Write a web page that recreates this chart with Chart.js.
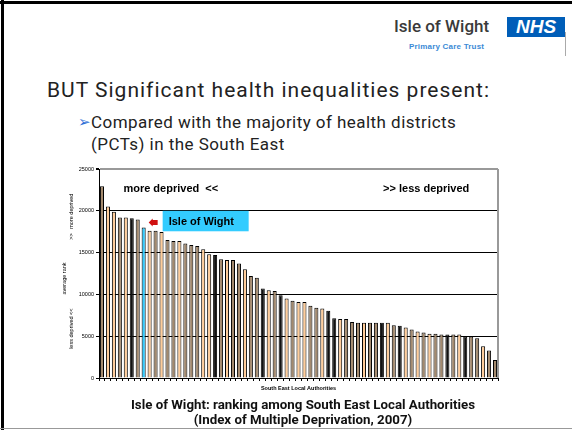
<!DOCTYPE html>
<html>
<head>
<meta charset="utf-8">
<script src="https://cdn.jsdelivr.net/npm/chart.js@4"></script>
<style>
    body { margin: 0; background: #fff; }
    .slide { position: relative; width: 572px; height: 430px; overflow: hidden; background: #fff; }
    .edgeTop { position: absolute; left: 0; top: 1px; width: 572px; height: 3px; background: #000; }
    .edgeLeft { position: absolute; left: 1px; top: 0; width: 3px; height: 430px; background: #000; }
    .edgeBottom { position: absolute; left: 0; top: 428px; width: 572px; height: 1px; background: #999; }
    .logoText { position: absolute; left: 394px; top: 16px; font: 500 17px Roboto, sans-serif; color: #3a3a3a; }
    .logoSub { position: absolute; left: 409px; top: 42px; font: bold 8px "Liberation Sans", sans-serif; color: #3b8ad6; letter-spacing: 0.2px; }
    .nhs { position: absolute; left: 507px; top: 17px; width: 58px; height: 20px; background: #005eb8;
           color: #fff; font: italic bold 19px "Liberation Sans", sans-serif; line-height: 20px; text-align: center; }
    .logoEdge { position: absolute; left: 565px; top: 32px; width: 1px; height: 24px; background: #aaa; }
    .title { position: absolute; left: 47px; top: 78px; font: 21px Roboto, sans-serif; letter-spacing: 1px; color: #222; white-space: nowrap; }
    .bullet { position: absolute; left: 78px; top: 113px; font: 15px "DejaVu Sans", sans-serif; color: #2f6fd6; }
    .sub { position: absolute; left: 91px; top: 111px; font: 17px/22px Roboto, sans-serif; letter-spacing: 0.45px; color: #222; white-space: nowrap; }
    .chartBox { position: absolute; left: 40px; top: 160px; width: 470px; height: 240px; }
    .caption { position: absolute; left: 0; width: 606px; top: 397px; text-align: center;
               font: bold 13.3px/15px Roboto, sans-serif; color: #111; }
</style>
</head>
<body>
<div class="slide">
    <div class="edgeTop"></div>
    <div class="edgeLeft"></div>
    <div class="edgeBottom"></div>
    <div class="logoText">Isle of Wight</div>
    <div class="nhs">NHS</div>
    <div class="logoSub">Primary Care Trust</div>
    <div class="logoEdge"></div>
    <div class="title">BUT Significant health inequalities present:</div>
    <div class="bullet">&#10146;</div>
    <div class="sub">Compared with the majority of health districts<br>(PCTs) in the South East</div>
    <div class="chartBox"><canvas id="myChart"></canvas></div>
    <div class="caption">Isle of Wight: ranking among South East Local Authorities<br>(Index of Multiple Deprivation, 2007)</div>
</div>
<script>
// 67 South East local authorities, most deprived first (average rank, IMD 2007)
const authorities = ['1', '2', '3', '4', '5', '6', '7', 'Isle of Wight', '9', '10',
    '11', '12', '13', '14', '15', '16', '17', '18', '19', '20',
    '21', '22', '23', '24', '25', '26', '27', '28', '29', '30',
    '31', '32', '33', '34', '35', '36', '37', '38', '39', '40',
    '41', '42', '43', '44', '45', '46', '47', '48', '49', '50',
    '51', '52', '53', '54', '55', '56', '57', '58', '59', '60',
    '61', '62', '63', '64', '65', '66', '67'];
const averageRank = [22950, 20500, 19900, 19200, 19200, 19100, 18950, 18000, 17600, 17600,
    17450, 16500, 16400, 16400, 16100, 15900, 15800, 15400, 14800, 14700,
    14200, 14100, 14100, 13700, 13000, 12200, 12000, 10700, 10500, 10400,
    9900, 9500, 9250, 9100, 9100, 8650, 8400, 8300, 8050, 7150,
    7050, 7050, 6700, 6600, 6600, 6600, 6600, 6600, 6600, 6300,
    6250, 6050, 5800, 5550, 5450, 5300, 5300, 5200, 5200, 5200,
    5200, 4950, 4950, 4750, 3800, 3300, 2150];
// bar group per authority: 0 = Isle of Wight, 1 = light, 2 = mid, 3 = dark
const barGroup = [2, 1, 1, 2, 1, 3, 2, 0, 1, 2,
    1, 2, 2, 1, 2, 2, 2, 1, 1, 3,
    2, 1, 2, 2, 1, 2, 2, 3, 1, 2,
    3, 1, 2, 1, 1, 2, 2, 1, 3, 3,
    1, 2, 2, 2, 1, 2, 2, 3, 1, 2,
    3, 1, 2, 1, 2, 1, 2, 2, 3, 2,
    1, 3, 2, 2, 1, 2, 2];
const yTicks = [0, 5000, 10000, 15000, 20000, 25000];

const groupColours = ['#33ccff', '#ffcc99', '#a48a6e', '#111111'];
const highlightIndex = authorities.indexOf('Isle of Wight');

const annotations = {
    id: 'annotations',
    beforeDatasetsDraw(chart) {
        const { ctx, chartArea } = chart;
        ctx.save();
        ctx.strokeStyle = '#999';
        ctx.lineWidth = 2;
        ctx.beginPath();
        ctx.moveTo(chartArea.right, chartArea.top);
        ctx.lineTo(chartArea.right, chartArea.bottom);
        ctx.stroke();
        ctx.restore();
    },
    afterDatasetsDraw(chart) {
        const { ctx, chartArea, scales } = chart;
        const x = scales.x;
        const y = scales.y;
        ctx.save();
        ctx.fillStyle = '#000';
        ctx.textBaseline = 'middle';

        // region labels
        ctx.font = 'bold 11px "Liberation Sans", Arial, sans-serif';
        ctx.textAlign = 'left';
        ctx.fillText('more deprived  <<', x.getPixelForValue(3.6), y.getPixelForValue(22650));
        ctx.fillText('>> less deprived', x.getPixelForValue(47.2), y.getPixelForValue(22650));

        // Isle of Wight label
        const bx = x.getPixelForValue(highlightIndex) + 19;
        const top = y.getPixelForValue(20000);
        const bottom = y.getPixelForValue(17550);
        ctx.fillStyle = '#33ccff';
        ctx.fillRect(bx, top, 86, bottom - top);
        ctx.fillStyle = '#000';
        ctx.fillText('Isle of Wight', bx + 6, (top + bottom) / 2 + 1);

        // small red arrow pointing at the bar
        const ax = x.getPixelForValue(highlightIndex) + 5;
        const ay = y.getPixelForValue(18600);
        ctx.fillStyle = '#d01010';
        ctx.beginPath();
        ctx.moveTo(ax, ay);
        ctx.lineTo(ax + 4, ay - 4);
        ctx.lineTo(ax + 4, ay - 2.5);
        ctx.lineTo(ax + 9, ay - 2.5);
        ctx.lineTo(ax + 9, ay + 2.5);
        ctx.lineTo(ax + 4, ay + 2.5);
        ctx.lineTo(ax + 4, ay + 4);
        ctx.closePath();
        ctx.fill();

        // axis titles
        ctx.fillStyle = '#000';
        ctx.font = 'bold 5.5px "Liberation Sans", Arial, sans-serif';
        ctx.textAlign = 'center';
        ctx.fillText('South East Local Authorities', (chartArea.left + chartArea.right) / 2, chartArea.bottom + 10);

        ctx.font = '5.5px "Liberation Sans", Arial, sans-serif';
        const rotated = (text, px, value) => {
            ctx.save();
            ctx.translate(px, y.getPixelForValue(value));
            ctx.rotate(-Math.PI / 2);
            ctx.fillText(text, 0, 0);
            ctx.restore();
        };
        rotated('average rank', chartArea.left - 35, 11900);
        rotated('less deprived <<', chartArea.left - 28, 5900);
        rotated('>>   more deprived', chartArea.left - 28, 19300);
        ctx.restore();
    }
};

function drawChart() {
    const ctx = document.getElementById('myChart');
    new Chart(ctx, {
        type: 'bar',
        data: {
            labels: authorities,
            datasets: [{
                label: 'Average rank',
                data: averageRank,
                backgroundColor: barGroup.map(g => groupColours[g]),
                borderColor: '#000',
                borderWidth: 1,
                borderSkipped: 'bottom',
                barPercentage: 0.68,
                categoryPercentage: 1
            }]
        },
        options: {
            responsive: true,
            maintainAspectRatio: false,
            animation: false,
            layout: { padding: { top: 9, right: 12, left: 0, bottom: 0 } },
            plugins: {
                legend: { display: false },
                tooltip: { enabled: false }
            },
            scales: {
                x: {
                    afterFit: (scale) => { scale.height = 22; },
                    ticks: { display: false, autoSkip: false },
                    grid: {
                        display: true,
                        drawOnChartArea: false,
                        drawTicks: true,
                        tickLength: 3,
                        color: '#000',
                        offset: true
                    },
                    border: { display: true, color: '#000', width: 1 }
                },
                y: {
                    min: 0,
                    max: 25000,
                    afterFit: (scale) => { scale.width = 59; },
                    afterBuildTicks: (scale) => { scale.ticks = yTicks.map(v => ({ value: v })); },
                    ticks: {
                        font: { family: '"Liberation Sans", Arial, sans-serif', size: 5.5 },
                        color: '#000',
                        padding: 2,
                        callback: (v) => String(v)
                    },
                    grid: {
                        color: (c) => c.tick && c.tick.value === 25000 ? '#999' : '#000',
                        lineWidth: (c) => c.tick && c.tick.value === 25000 ? 2 : 1,
                        tickLength: 3,
                        tickColor: '#000'
                    },
                    border: { display: true, color: '#000', width: 1 }
                }
            }
        },
        plugins: [annotations]
    });
}
drawChart();
</script>
</body>
</html>
